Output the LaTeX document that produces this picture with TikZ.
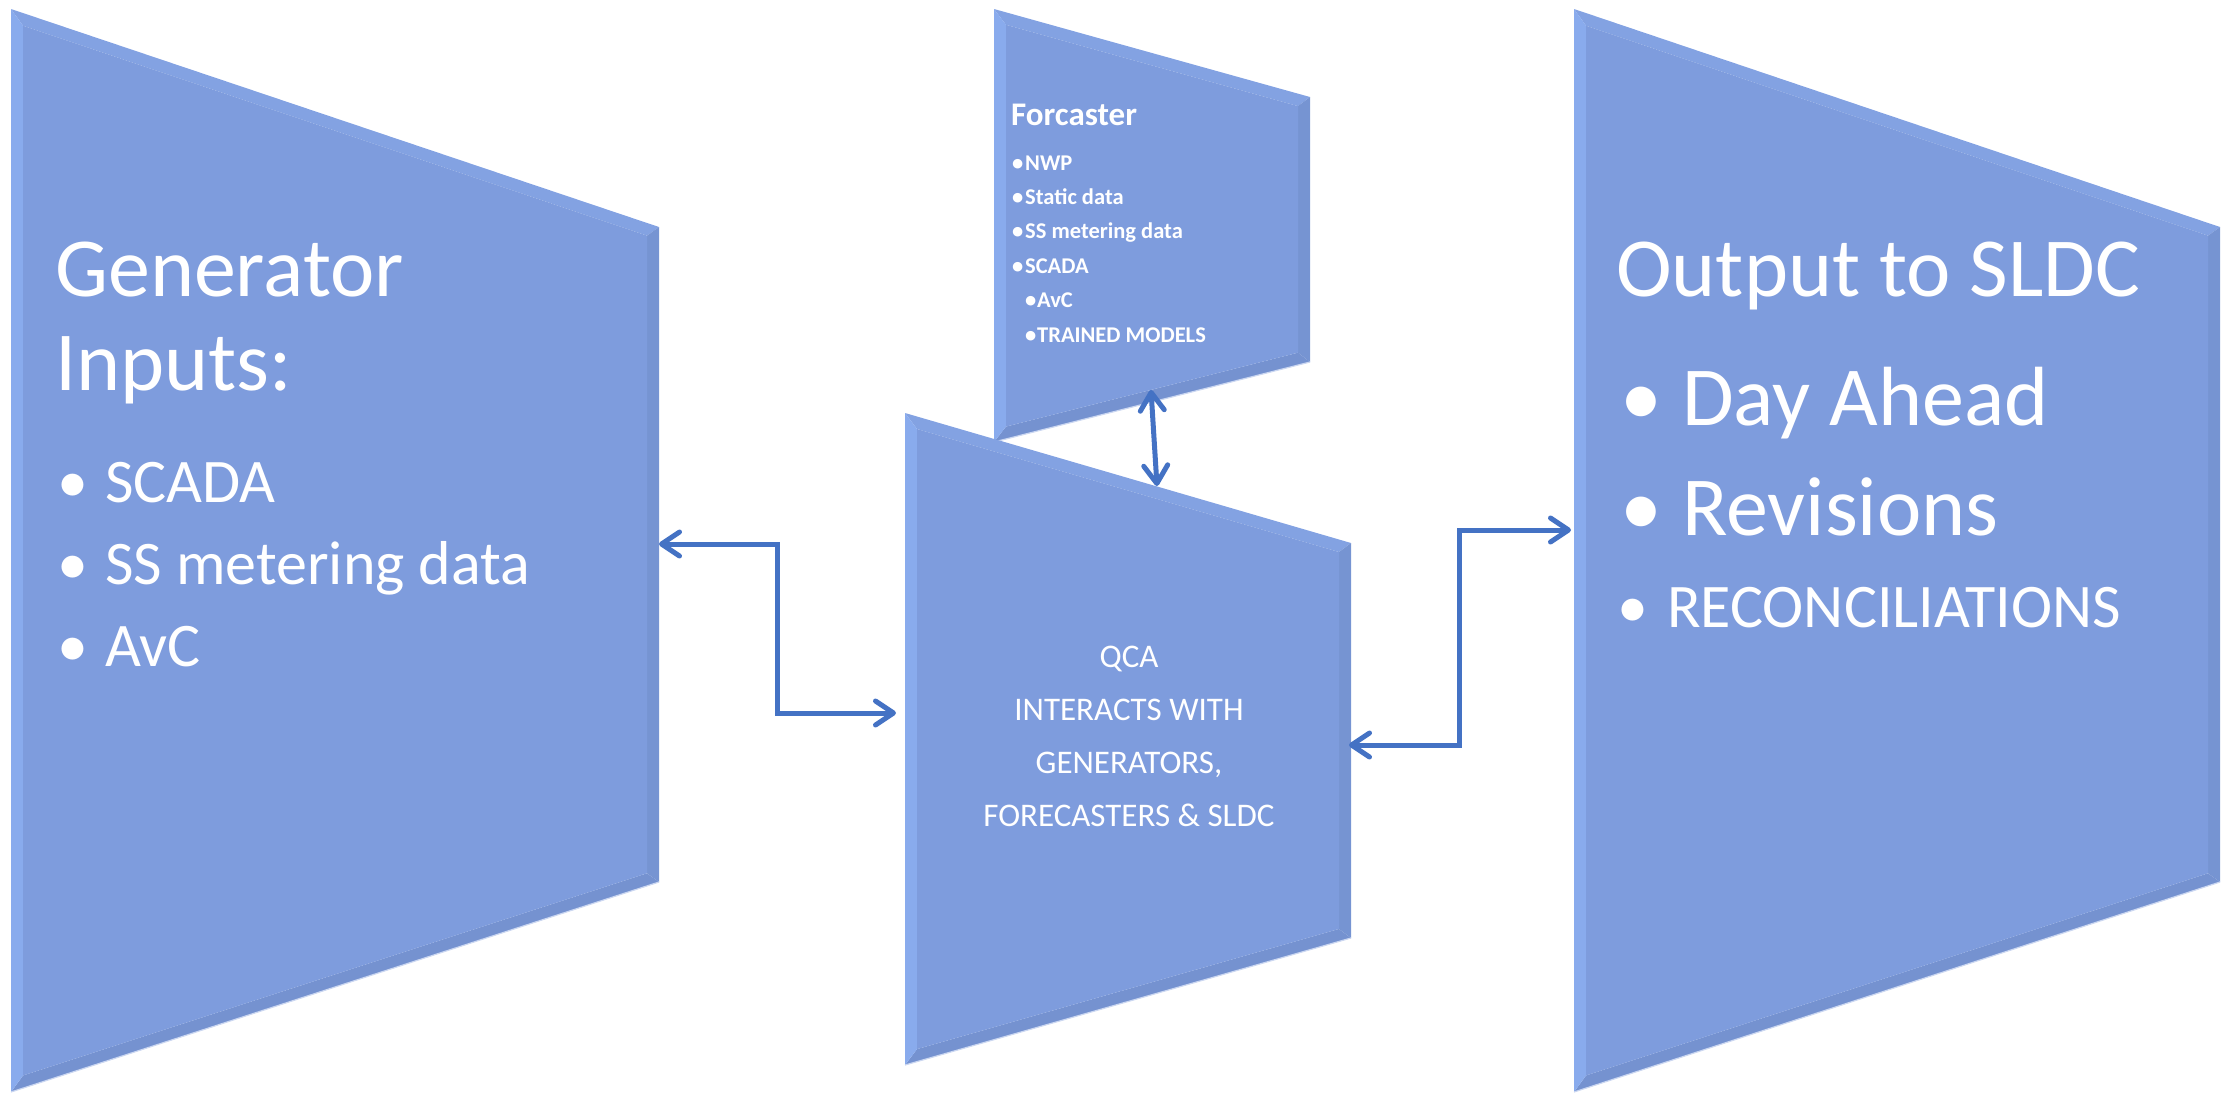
\documentclass[tikz,border=0pt]{standalone}
\usepackage{fontspec}
\setmainfont{Carlito}
\usetikzlibrary{arrows.meta}

\definecolor{boxfill}{HTML}{7E9CDD}
\definecolor{boxtop}{HTML}{83A2E2}
\definecolor{boxleft}{HTML}{89ABED}
\definecolor{boxright}{HTML}{7694D2}
\definecolor{boxbot}{HTML}{7592D0}
\definecolor{linkblue}{HTML}{4472C4}

\def\bevw{12}
% bevelled trapezoid: name, x left, x right, y top-left, y top-right, y bottom-right, y bottom-left
\newcommand{\bevelbox}[7]{%
  \pgfmathsetmacro{\bvmt}{(#5-#4)/(#3-#2)}%
  \pgfmathsetmacro{\bvmb}{(#6-#7)/(#3-#2)}%
  \pgfmathsetmacro{\bvkt}{\bevw*sqrt(1+\bvmt*\bvmt)}%
  \pgfmathsetmacro{\bvkb}{\bevw*sqrt(1+\bvmb*\bvmb)}%
  \coordinate (#1-nw) at (#2,#4);
  \coordinate (#1-ne) at (#3,#5);
  \coordinate (#1-se) at (#3,#6);
  \coordinate (#1-sw) at (#2,#7);
  \coordinate (#1-inw) at ({#2+\bevw},{#4+\bvmt*\bevw+\bvkt});
  \coordinate (#1-ine) at ({#3-\bevw},{#5-\bvmt*\bevw+\bvkt});
  \coordinate (#1-ise) at ({#3-\bevw},{#6-\bvmb*\bevw-\bvkb});
  \coordinate (#1-isw) at ({#2+\bevw},{#7+\bvmb*\bevw-\bvkb});
  \fill[boxtop] (#1-nw) -- (#1-ne) -- (#1-ine) -- (#1-inw) -- cycle;
  \fill[boxright] (#1-ne) -- (#1-se) -- (#1-ise) -- (#1-ine) -- cycle;
  \fill[boxbot] (#1-se) -- (#1-sw) -- (#1-isw) -- (#1-ise) -- cycle;
  \fill[boxleft] (#1-sw) -- (#1-nw) -- (#1-inw) -- (#1-isw) -- cycle;
  \fill[boxfill] (#1-inw) -- (#1-ine) -- (#1-ise) -- (#1-isw) -- cycle;
  \draw[white!60!boxfill, line width=1.2pt] (#1-sw) -- (#1-se);
}

\tikzset{
  txt/.style={text=white, inner sep=0pt, anchor=base west},
  big/.style={font=\fontsize{84}{94}\selectfont},
  mid/.style={font=\fontsize{62}{70}\selectfont},
  qtxt/.style={text=white, inner sep=0pt, anchor=base, font=\fontsize{33}{40}\selectfont},
  ftxt/.style={txt, font=\bfseries\fontsize{22.5}{27}\selectfont},
  link/.style={draw=linkblue, line width=5pt,
    {Straight Barb[length=18pt,width=24pt,round]}-{Straight Barb[length=18pt,width=24pt,round]}}
}

\begin{document}
\begin{tikzpicture}[x=1pt,y=-1pt]
  \useasboundingbox (0,0) rectangle (2233,1093);

  \bevelbox{gen}{11}{659}{9}{227}{882}{1092}
  \bevelbox{out}{1574}{2220}{9}{227}{882}{1092}
  \bevelbox{fc}{994}{1310}{9}{97}{362}{442}
  \bevelbox{qca}{905}{1351}{413}{543}{938}{1065}

  % generator inputs
  \node[txt,big] (gen-t1) at (55,296) {Generator};
  \node[txt,big] (gen-t2) at (55,390) {Inputs:};
  \foreach \t [count=\i] in {SCADA,SS metering data,AvC}
    \node[txt,mid] (gen-\i) at (57,{502+(\i-1)*82}) {\makebox[48pt][l]{•}\t};

  % forecaster
  \node[txt,font=\bfseries\fontsize{33}{40}\selectfont] (fc-t) at (1011,125) {Forcaster};
  \foreach \t [count=\i] in {NWP,Static data,SS metering data,SCADA}
    \node[ftxt] (fc-\i) at (1012,{170+(\i-1)*34.4}) {\makebox[13pt][l]{•}\t};
  \node[ftxt] (fc-5) at (1025,307.5) {\makebox[12pt][l]{•}AvC};
  \node[ftxt] (fc-6) at (1025,342) {\makebox[12pt][l]{•}TRAINED MODELS};

  % qca
  \node[qtxt] (qca-1) at (1129,667) {QCA};
  \node[qtxt] (qca-2) at (1129,720) {INTERACTS WITH};
  \node[qtxt] (qca-3) at (1129,773) {GENERATORS,};
  \node[qtxt] (qca-4) at (1129,826) {FORECASTERS \& SLDC};

  % output to sldc
  \node[txt,big] (out-t) at (1616,296) {Output to SLDC};
  \node[txt,big] (out-1) at (1620,425) {\makebox[62pt][l]{•}Day Ahead};
  \node[txt,big] (out-2) at (1620,535) {\makebox[62pt][l]{•}Revisions};
  \node[txt,mid] (out-3) at (1617,627) {\makebox[50pt][l]{•}RECONCILIATIONS};

  % connectors
  \coordinate (gen-r) at (659,544);
  \coordinate (qca-l) at (896,713);
  \coordinate (qca-r) at (1349,745);
  \coordinate (out-l) at (1571,530);
  \coordinate (fc-b) at (1151,390);
  \coordinate (qca-t) at (1157,486);

  \draw[link] (gen-r) -- ++(118,0) |- (qca-l);
  \draw[link] (qca-r) -- ++(110,0) |- (out-l);
  \draw[link] (fc-b) -- (qca-t);
\end{tikzpicture}
\end{document}
